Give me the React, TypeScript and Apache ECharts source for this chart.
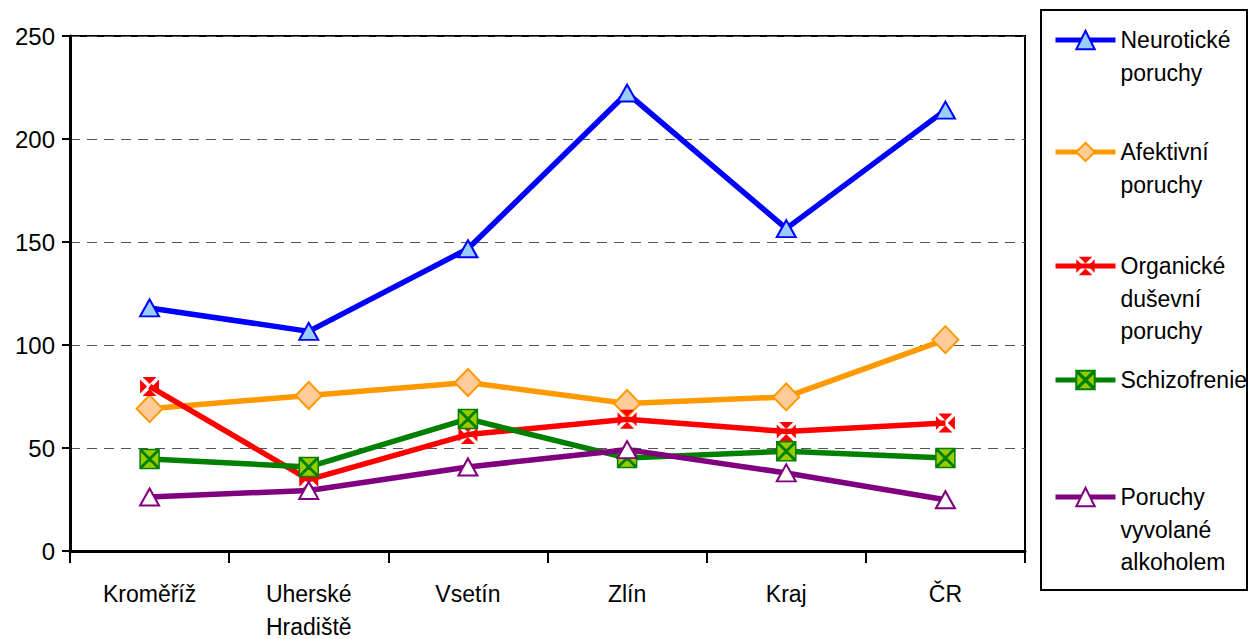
import React, { useEffect, useRef } from "react";
import * as echarts from "echarts";

const categories = ["Kroměříž", "Uherské\nHradiště", "Vsetín", "Zlín", "Kraj", "ČR"];
const seriesNames = [
  "Neurotické poruchy",
  "Afektivní poruchy",
  "Organické duševní poruchy",
  "Schizofrenie",
  "Poruchy vyvolané alkoholem",
];
const legendLabels = [
  "Neurotické\nporuchy",
  "Afektivní\nporuchy",
  "Organické\nduševní\nporuchy",
  "Schizofrenie",
  "Poruchy\nvyvolané\nalkoholem",
];
const neuroticke = [118, 106.6, 146.7, 222.3, 156.5, 214];
const afektivni = [69.1, 75.5, 81.8, 71.6, 74.8, 102.6];
const organicke = [79.9, 34.6, 56.5, 64, 58, 62.1];
const schizofrenie = [44.7, 40.8, 64.1, 45.1, 48.4, 45.1];
const alkohol = [26.2, 29.4, 40.8, 49.2, 37.9, 24.9];
const yTicks = { min: 0, max: 250, interval: 50 };

const FONT = "'Liberation Sans', Arial, sans-serif";

const xCutSymbol =
  "path://M2.6,0 L17.4,0 L10,7.4 Z M20,2.6 L20,17.4 L12.6,10 Z M17.4,20 L2.6,20 L10,12.6 Z M0,17.4 L0,2.6 L7.4,10 Z";
const xThinSymbol =
  "path://M1,0 L19,0 L10,9 Z M20,1 L20,19 L11,10 Z M19,20 L1,20 L10,11 Z M0,19 L0,1 L9,10 Z";

export default function App() {
  const ref = useRef<HTMLDivElement>(null);
  useEffect(() => {
    if (!ref.current) return;
    const chart = echarts.init(ref.current, undefined, { renderer: "svg" });
    const lh = 32.5;
    const iconY = [40, 152, 266, 380, 497];
    const styles = [
      { line: "#0000FF", fill: "#99CCFF", border: "#0000FF", bw: 2, symbol: "triangle", size: [19, 17], data: neuroticke },
      { line: "#FF9900", fill: "#FFCC99", border: "#FF9900", bw: 2, symbol: "diamond", size: [26, 27], data: afektivni },
      { line: "#FF0000", fill: "#FF0000", border: "#FF0000", bw: 0, symbol: xCutSymbol, size: [19, 19], data: organicke },
      { line: "#008000", fill: "#99CC00", border: "#008000", bw: 1.5, symbol: xThinSymbol, size: [19, 19], data: schizofrenie },
      { line: "#800080", fill: "#FFFFFF", border: "#800080", bw: 2, symbol: "triangle", size: [19, 17], data: alkohol },
    ];
    const legends = seriesNames.map((name, i) => {
      const n = legendLabels[i].split("\n").length;
      const H = (2 * n - 1) * lh;
      const label = "\n".repeat(n - 1) + legendLabels[i];
      return {
        data: [name],
        orient: "vertical" as const,
        left: 1053,
        top: iconY[i] - H / 2,
        padding: 0,
        itemWidth: 60,
        itemHeight: 23,
        selectedMode: false,
        formatter: () => label,
        lineStyle: { width: 5 },
        textStyle: {
          fontFamily: FONT,
          fontSize: 23,
          color: "#000",
          lineHeight: lh,
        },
      };
    });
    chart.setOption({
      animation: false,
      backgroundColor: "#fff",
      legend: legends,
      graphic: [
        {
          type: "rect",
          shape: { x: 1041, y: 10, width: 206, height: 580 },
          style: { fill: "none", stroke: "#000", lineWidth: 2 },
        },
      ],
      grid: {
        left: 70,
        right: 225,
        top: 36,
        bottom: 88,
        show: true,
        borderColor: "#000",
        borderWidth: 2,
        containLabel: false,
        outerBoundsMode: "none",
      },
      xAxis: {
        type: "category",
        data: categories,
        boundaryGap: true,
        axisLine: { lineStyle: { color: "#000", width: 3 } },
        axisTick: { show: true, length: 12, lineStyle: { color: "#000", width: 2 }, alignWithLabel: false },
        axisLabel: {
          fontFamily: FONT,
          fontSize: 23,
          color: "#000",
          lineHeight: 33,
          margin: 26,
          interval: 0,
        },
      },
      yAxis: {
        type: "value",
        min: yTicks.min,
        max: yTicks.max,
        interval: yTicks.interval,
        axisLine: { show: true, lineStyle: { color: "#000", width: 3 } },
        axisTick: { show: true, length: 8, lineStyle: { color: "#000", width: 2 } },
        axisLabel: { fontFamily: FONT, fontSize: 24, color: "#000", margin: 15 },
        splitLine: { show: true, lineStyle: { color: "#555", width: 1, type: [10, 7] } },
      },
      series: styles.map((s, i) => ({
        name: seriesNames[i],
        type: "line",
        data: s.data,
        symbol: s.symbol,
        symbolSize: s.size,
        showAllSymbol: true,
        lineStyle: { color: s.line, width: 5.5 },
        itemStyle: { color: s.fill, borderColor: s.border, borderWidth: s.bw, opacity: 1 },
        emphasis: { disabled: true },
        z: 2 + i,
      })),
    });
    return () => chart.dispose();
  }, []);
  return (
    <div
      ref={ref}
      style={{ position: "fixed", left: 0, top: 0, width: 1250, height: 639 }}
    />
  );
}
